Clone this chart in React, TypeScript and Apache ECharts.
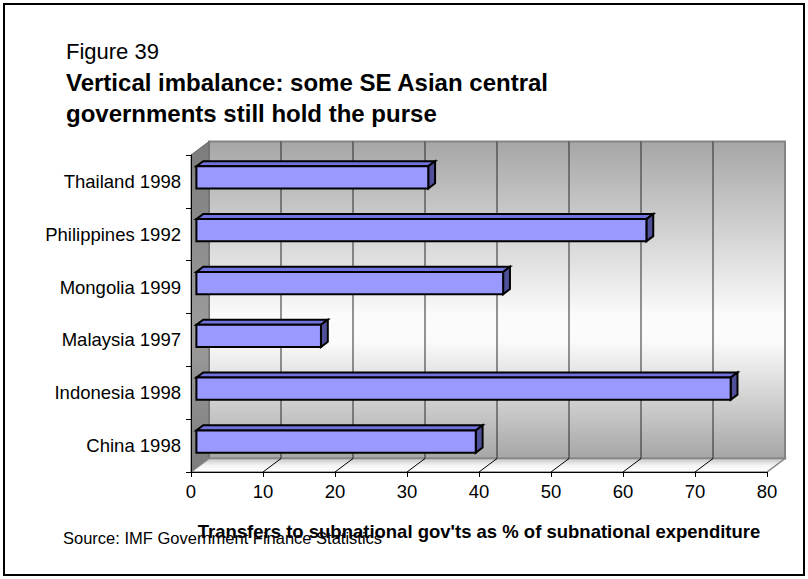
import React, { useEffect, useRef } from "react";
import * as echarts from "echarts";

const categories = [
  "Thailand 1998",
  "Philippines 1992",
  "Mongolia 1999",
  "Malaysia 1997",
  "Indonesia 1998",
  "China 1998",
];
const values = [32.2, 62.5, 42.6, 17.3, 74.2, 38.8];
const xTicks = [0, 10, 20, 30, 40, 50, 60, 70, 80];
const figureLabel = "Figure 39";
const titleLines = [
  "Vertical imbalance: some SE Asian central",
  "governments still hold the purse",
];
const xAxisTitle = "Transfers to subnational gov'ts as % of subnational expenditure";
const sourceNote = "Source: IMF Government Finance Statistics";

const DX = 18;
const DY = 13.5;
const FONT = "'Liberation Sans', Arial, Helvetica, sans-serif";

export default function App() {
  const ref = useRef<HTMLDivElement>(null);

  useEffect(() => {
    const chart = echarts.init(ref.current!, null, { renderer: "svg" });

    const backGrad = new echarts.graphic.LinearGradient(0, 0, 0, 1, [
      { offset: 0, color: "#a6a6a6" },
      { offset: 0.55, color: "#fbfbfb" },
      { offset: 0.63, color: "#fbfbfb" },
      { offset: 1, color: "#a6a6a6" },
    ]);
    const leftGrad = new echarts.graphic.LinearGradient(0, 0, 0, 1, [
      { offset: 0, color: "#7c7c7c" },
      { offset: 0.58, color: "#9c9c9c" },
      { offset: 1, color: "#7c7c7c" },
    ]);
    const floorGrad = new echarts.graphic.LinearGradient(0, 0, 0, 1, [
      { offset: 0, color: "#c4c4c4" },
      { offset: 0.5, color: "#f4f4f4" },
      { offset: 1, color: "#ffffff" },
    ]);

    const option = {
      animation: false,
      backgroundColor: "#ffffff",
      grid: { left: 191, right: 41, top: 155, bottom: 107, containLabel: false },
      xAxis: {
        type: "value",
        min: 0,
        max: 80,
        interval: 10,
        z: 10,
        axisLine: { show: true, lineStyle: { color: "#000", width: 1 } },
        axisTick: { show: true, length: 5, lineStyle: { color: "#000" } },
        axisLabel: { fontFamily: FONT, fontSize: 18.5, color: "#000", margin: 10 },
        splitLine: { show: false },
        name: xAxisTitle,
        nameLocation: "middle",
        nameGap: 50,
        nameTextStyle: { fontFamily: FONT, fontSize: 18.5, fontWeight: "bold", color: "#000" },
      },
      yAxis: {
        type: "category",
        data: categories,
        inverse: true,
        z: 10,
        axisLine: { show: true, lineStyle: { color: "#000", width: 1 } },
        axisTick: { show: true, length: 5, lineStyle: { color: "#000" } },
        axisLabel: { fontFamily: FONT, fontSize: 18.5, color: "#000", margin: 10 },
        splitLine: { show: false },
      },
      graphic: [
        {
          type: "rect",
          shape: { x: 4, y: 4, width: 800, height: 571 },
          style: { fill: "none", stroke: "#000", lineWidth: 2 },
          z: 100,
        },
        {
          type: "text",
          x: 66,
          y: 51,
          style: { text: figureLabel, fontFamily: FONT, fontSize: 22, fill: "#000", verticalAlign: "middle", align: "left" },
        },
        {
          type: "text",
          x: 66,
          y: 82,
          style: { text: titleLines[0], fontFamily: FONT, fontSize: 24, fontWeight: "bold", fill: "#000", verticalAlign: "middle", align: "left" },
        },
        {
          type: "text",
          x: 66,
          y: 113,
          style: { text: titleLines[1], fontFamily: FONT, fontSize: 24, fontWeight: "bold", fill: "#000", verticalAlign: "middle", align: "left" },
        },
        {
          type: "text",
          x: 63,
          y: 538,
          style: { text: sourceNote, fontFamily: FONT, fontSize: 16.5, fill: "#000", verticalAlign: "middle", align: "left" },
        },
      ],
      series: [
        {
          type: "custom",
          z: 1,
          silent: true,
          data: [[0, 0]],
          encode: { x: 0, y: 1 },
          renderItem: (params: any, api: any) => {
            const cs = params.coordSys;
            const x0 = cs.x, y0 = cs.y, x1 = cs.x + cs.width, y1 = cs.y + cs.height;
            const children: any[] = [];
            children.push({
              type: "rect",
              shape: { x: x0 + DX, y: y0 - DY, width: cs.width, height: cs.height },
              style: { fill: backGrad, stroke: "#858585", lineWidth: 2 },
            });
            children.push({
              type: "polygon",
              shape: { points: [[x0, y0], [x0 + DX, y0 - DY], [x0 + DX, y1 - DY], [x0, y1]] },
              style: { fill: leftGrad, stroke: "#666", lineWidth: 1 },
            });
            children.push({
              type: "polygon",
              shape: { points: [[x0, y1], [x1, y1], [x1 + DX, y1 - DY], [x0 + DX, y1 - DY]] },
              style: { fill: floorGrad, stroke: "#858585", lineWidth: 1.5 },
            });
            xTicks.forEach((v) => {
              const px = api.coord([v, 0])[0];
              if (v > 0 && v < 80) {
                children.push({
                  type: "line",
                  shape: { x1: px + DX, y1: y0 - DY, x2: px + DX, y2: y1 - DY },
                  style: { stroke: "#2a2a2a", lineWidth: 1 },
                });
                children.push({
                  type: "line",
                  shape: { x1: px, y1: y1, x2: px + DX, y2: y1 - DY },
                  style: { stroke: "#000", lineWidth: 1 },
                });
              }
            });
            return { type: "group", children };
          },
        },
        {
          type: "custom",
          z: 3,
          silent: true,
          data: values.map((v, i) => [v, i]),
          encode: { x: 0, y: 1 },
          renderItem: (params: any, api: any) => {
            const v = api.value(0);
            const c = api.value(1);
            const cs = params.coordSys;
            const band = cs.height / categories.length;
            const p0 = api.coord([0, c]);
            const p1 = api.coord([v, c]);
            const h = band * 0.42;
            const fx = DX * 0.3, fy = DY * 0.3;
            const ddx = DX * 0.38, ddy = DY * 0.38;
            const left = p0[0] + fx;
            const right = p1[0] + fx;
            const top = p0[1] - fy - h / 2;
            const bottom = top + h;
            const stroke = { stroke: "#000", lineWidth: 2, lineJoin: "miter" };
            return {
              type: "group",
              children: [
                {
                  type: "polygon",
                  shape: { points: [[left, top], [right, top], [right + ddx, top - ddy], [left + ddx, top - ddy]] },
                  style: { fill: "#7272dc", ...stroke },
                },
                {
                  type: "polygon",
                  shape: { points: [[right, top], [right + ddx, top - ddy], [right + ddx, bottom - ddy], [right, bottom]] },
                  style: { fill: "#4f4f9a", ...stroke },
                },
                {
                  type: "rect",
                  shape: { x: left, y: top, width: right - left, height: h },
                  style: { fill: "#9999ff", ...stroke },
                },
              ],
            };
          },
        },
      ],
    };

    chart.setOption(option as any);
    return () => {
      chart.dispose();
    };
  }, []);

  return (
    <div
      ref={ref}
      style={{ position: "fixed", left: 0, top: 0, width: 808, height: 579, background: "#fff" }}
    />
  );
}
